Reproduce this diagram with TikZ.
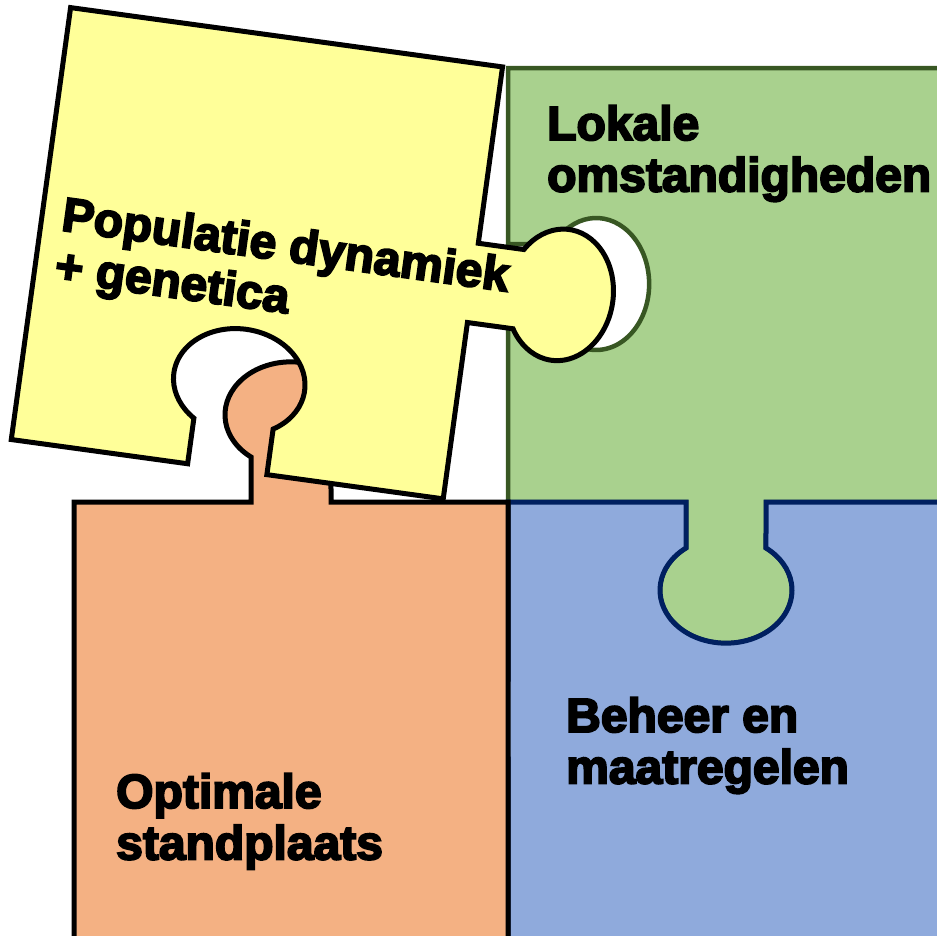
\documentclass[tikz,border=0pt]{standalone}
\usepackage{fontspec}
\setmainfont{Liberation Sans}[BoldFeatures={FakeBold=4}]
\definecolor{geel}{HTML}{FFFF99}
\definecolor{groen}{HTML}{A9D18E}
\definecolor{groenrand}{HTML}{385723}
\definecolor{blauw}{HTML}{8FAADC}
\definecolor{blauwrand}{HTML}{002060}
\definecolor{oranje}{HTML}{F4B183}
\tikzset{piece/.style={line width=5pt,line join=miter},
  lbl/.style={font=\bfseries\fontsize{48}{51.5}\selectfont,align=left,inner sep=0pt,anchor=base west}}

\begin{document}
\begin{tikzpicture}[x=1pt,y=1pt]
      \useasboundingbox (0,0) rectangle (937,-935);
      \clip (0,0) rectangle (937,-935);
      % green piece, hole left, tab down
      \draw[piece,fill=groen,draw=groenrand,line width=4.5pt] (945,-68) -- (508,-68) -- (508,-244) -- (554,-244)
        arc[start angle=142.7,end angle=-142.7,x radius=53pt,y radius=66pt] -- (508,-324) -- (508,-502) -- (686,-502) -- (686,-548)
        arc[start angle=127.3,end angle=412.7,x radius=66pt,y radius=53pt] -- (766,-502) -- (945,-502) -- cycle;
      % blue piece
      \draw[piece,fill=blauw,draw=blauwrand] (508,-502) -- (686,-502) -- (686,-548)
        arc[start angle=127.3,end angle=412.7,x radius=66pt,y radius=53pt] -- (766,-502) -- (945,-502) -- (945,-945) -- (508,-945) -- (508,-759) -- (463,-759)
        arc[start angle=-37.3,end angle=-322.7,x radius=53pt,y radius=66pt] -- (508,-679) -- cycle;
      % orange piece
      \draw[piece,fill=oranje,draw=black] (74,-502) -- (251,-502) -- (251,-457)
        arc[start angle=232.7,end angle=-52.7,x radius=66pt,y radius=53pt] -- (331,-502) -- (508,-502) -- (508,-945) -- (74,-945) -- cycle;
      % yellow piece, turned
      \begin{scope}[shift={(70.6,-7.6)},rotate=-7.82]
        \draw[piece,fill=geel,draw=black] (0,0) -- (436,0) -- (436,-178) -- (482,-178)
          arc[start angle=142.7,end angle=-142.7,x radius=53pt,y radius=66pt] -- (436,-258) -- (436,-436) -- (258,-436) -- (258,-390)
          arc[start angle=-52.7,end angle=232.7,x radius=66pt,y radius=53pt] -- (178,-436) -- (0,-436) -- cycle;
        \node[lbl,transform shape] (populatie) at (20,-273.5) {Populatie dynamiek\\+ genetica};
      \end{scope}
      % labels, anchored on the last line
      \node[lbl] (lokale) at (547,-191.5) {Lokale\\omstandigheden};
      \node[lbl] (beheer) at (566,-783.5) {Beheer en\\maatregelen};
      \node[lbl] (optimale) at (116,-859.5) {Optimale\\standplaats};
\end{tikzpicture}
\end{document}
